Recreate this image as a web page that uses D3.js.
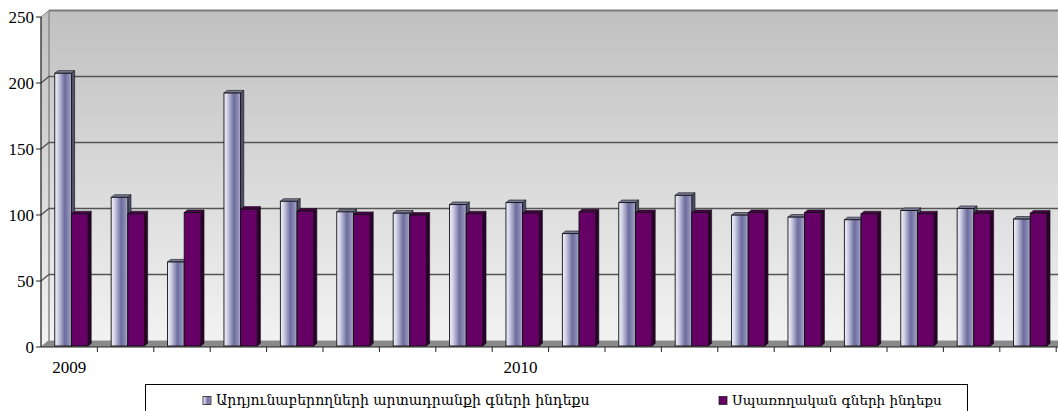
<!DOCTYPE html>
<html><head><meta charset="utf-8">
<script src="https://cdn.jsdelivr.net/npm/d3@7"></script>
<style>html,body{margin:0;padding:0;background:#fff;overflow:hidden}</style>
</head><body>
<svg id="c" width="1058" height="411"></svg>
<script>
const categories = ["2009","","","","","","","","2010","","","","","","","","",""];
const producerIndex = [205.5,111.5,62.5,190.5,108.5,100.5,99.5,106,107.5,84,107.5,113,98,96.5,94.5,101.5,103,95];
const consumerIndex = [99,99,100,102.5,101,98.5,98,99,99.5,100.5,100,100,100,100,99,99,99.5,99.5];
const yTicks = [0,50,100,150,200,250];
const seriesNames = ["Արդյունաբերողների արտադրանքի գների ինդեքս","Սպառողական գների ինդեքս"];

const svg = d3.select("#c");
const W = 1058, H = 411;
const DX = 8, DY = -6.5;
const x0 = 41, y0 = 347, yTop = 17;
const idx = d3.range(categories.length);
const x = d3.scaleBand().domain(idx).range([x0, x0 + 18*56.4]).padding(0);
const y = d3.scaleLinear().domain([0,250]).range([y0, yTop]);

const defs = svg.append("defs");
const wallG = defs.append("linearGradient").attr("id","wall").attr("x1",0).attr("y1",0).attr("x2",0).attr("y2",1);
wallG.append("stop").attr("offset","0%").attr("stop-color","#c0c0c0");
wallG.append("stop").attr("offset","100%").attr("stop-color","#f2f2f2");
const barG = defs.append("linearGradient").attr("id","barL").attr("x1",0).attr("y1",0).attr("x2",1).attr("y2",0);
[["0%","#f2f2fa"],["20%","#d2d2e6"],["60%","#6c6c9e"],["85%","#8c8cb6"],["100%","#b4b4d0"]]
  .forEach(s=>barG.append("stop").attr("offset",s[0]).attr("stop-color",s[1]));

// back wall
svg.append("rect").attr("x", x0+DX).attr("y", yTop+DY).attr("width", W).attr("height", y0-yTop).attr("fill","url(#wall)");
// side wall
svg.append("path").attr("d", `M${x0},${yTop}L${x0+DX},${yTop+DY}L${x0+DX},${y0+DY}L${x0},${y0}Z`)
  .attr("fill","url(#wall)").attr("stroke","#808080").attr("stroke-width",1);
// floor
svg.append("path").attr("d", `M${x0},${y0}L${x0+DX},${y0+DY}L${W},${y0+DY}L${W},${y0}Z`).attr("fill","#8a8a8a");
// back wall top border and left edge
svg.append("line").attr("x1",x0+DX).attr("x2",W).attr("y1",yTop+DY).attr("y2",yTop+DY).attr("stroke","#7a7a7a").attr("stroke-width",2);
svg.append("line").attr("x1",x0+DX).attr("x2",x0+DX).attr("y1",yTop+DY).attr("y2",y0+DY).attr("stroke","#909090").attr("stroke-width",1);
// gridlines
yTicks.filter(t=>t>0 && t<250).forEach(t=>{
  svg.append("path").attr("d",`M${x0},${y(t)}L${x0+DX},${y(t)+DY}L${W},${y(t)+DY}`)
    .attr("fill","none").attr("stroke","#555").attr("stroke-width",1.3);
});

// bars
const bw = x.bandwidth();
const barW = bw*0.295;
const bdx = 3.2, bdy = -2.6;
function bar(g, bx, v, front, top, side){
  const yt = y(v) - 2.5, yb = y(0) - 1;
  g.append("path").attr("d",`M${bx+barW},${yt}L${bx+barW+bdx},${yt+bdy}L${bx+barW+bdx},${yb+bdy}L${bx+barW},${yb}Z`)
    .attr("fill",side).attr("stroke","#111").attr("stroke-width",0.6);
  g.append("path").attr("d",`M${bx},${yt}L${bx+bdx},${yt+bdy}L${bx+barW+bdx},${yt+bdy}L${bx+barW},${yt}Z`)
    .attr("fill",top).attr("stroke","#111").attr("stroke-width",0.6);
  g.append("rect").attr("x",bx).attr("y",yt).attr("width",barW).attr("height",yb-yt)
    .attr("fill",front).attr("stroke","#111").attr("stroke-width",0.9);
}
const bars = svg.append("g");
idx.forEach(i=>{
  const start = x(i) + (bw - 2*barW)/2 + 2.2;
  bar(bars, start, producerIndex[i], "url(#barL)", "#7a7a98", "#50506e");
  bar(bars, start+barW, consumerIndex[i], "#660066", "#4a004a", "#2e002e");
});

// y axis
const yAxis = svg.append("g");
yAxis.append("line").attr("x1",x0).attr("x2",x0).attr("y1",yTop).attr("y2",y0).attr("stroke","#222").attr("stroke-width",1);
yTicks.forEach(t=>{
  yAxis.append("line").attr("x1",x0-5).attr("x2",x0).attr("y1",y(t)).attr("y2",y(t)).attr("stroke","#222");
  yAxis.append("text").attr("x",x0-7).attr("y",y(t)+6).attr("text-anchor","end")
    .attr("font-family","'Liberation Serif', 'Times New Roman', serif").attr("font-size",17).attr("fill","#000").text(t);
});
// x axis
svg.append("line").attr("x1",x0).attr("x2",W).attr("y1",y0).attr("y2",y0).attr("stroke","#222").attr("stroke-width",1.2);
idx.forEach(i=>{
  const xt = x(i)+bw;
  svg.append("line").attr("x1",xt).attr("x2",xt).attr("y1",y0).attr("y2",y0+5).attr("stroke","#222");
  if(categories[i]) svg.append("text").attr("x",x(i)+bw/2).attr("y",y0+26).attr("text-anchor","middle")
    .attr("font-family","'Liberation Serif', 'Times New Roman', serif").attr("font-size",17).attr("fill","#000").text(categories[i]);
});

// legend
const lg = svg.append("g");
lg.append("rect").attr("x",145.5).attr("y",384.5).attr("width",822).attr("height",40).attr("fill","#fff").attr("stroke","#000").attr("stroke-width",1);
const legendItems = [
  {name: seriesNames[0], mx:203, tx:216, tw:374, fill:"url(#barL)"},
  {name: seriesNames[1], mx:719, tx:732, tw:210, fill:"#660066"}
];
legendItems.forEach(it=>{
  lg.append("rect").attr("x",it.mx).attr("y",396.5).attr("width",8).attr("height",8).attr("fill",it.fill).attr("stroke","#222").attr("stroke-width",0.8);
  const t = lg.append("text").attr("x",it.tx).attr("y",405).attr("font-family","DejaVu Serif, serif")
    .attr("font-size",14).attr("fill","#000").text(it.name);
  const w = t.node().getComputedTextLength();
  if (w>0) t.attr("font-size", 14*it.tw/w);
});
</script>
</body></html>
